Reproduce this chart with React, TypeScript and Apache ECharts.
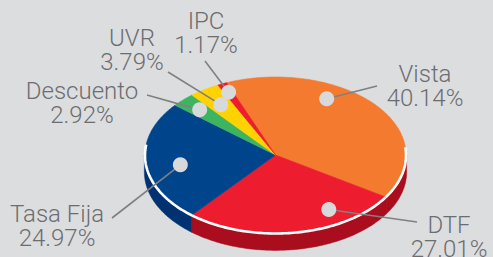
import React, { useEffect, useRef } from 'react';
import * as echarts from 'echarts';

const categories = ['Vista', 'DTF', 'Tasa Fija', 'Descuento', 'UVR', 'IPC'];
const values = [40.14, 27.01, 24.97, 2.92, 3.79, 1.17];
const valueLabels = ['40.14%', '27.01%', '24.97%', '2.92%', '3.79%', '1.17%'];

// styling / layout (not data)
const topColors = ['#F47A30', '#ED1C2E', '#00458C', '#3DB560', '#FFD200', '#ED1C2E'];
const sideColors = ['#AA0D1E', '#AA0D1E', '#003272', '#2A8A45', '#C9A500', '#AA0D1E'];
const labelPos = [[425, 85.5], [449, 236.5], [57, 226], [82, 102.5], [132, 50], [206, 33]];
const lineEnds = [[377, 86], [417, 222], [112, 218], [147, 95], [168, 72], [205, 61]];
const dotFrac = [0.35, 0.28, 0.45, 0.5, 0.5, 0.5];
const dotRad = [0.82, 0.81, 0.74, 0.82, 0.77, 0.88];

const CX = 275.5;
const CY = 155;
const RX = 130.5;
const RY = 78;
const DEPTH = 17;
const START = -22;

const rad = (d: number) => (d * Math.PI) / 180;
const pt = (t: number, f = 1, dy = 0): number[] => [
  CX + RX * f * Math.sin(rad(t)),
  CY - RY * f * Math.cos(rad(t)) + dy,
];
const arc = (a: number, b: number, f = 1, dy = 0) => {
  const pts: number[][] = [];
  const n = Math.max(2, Math.ceil(Math.abs(b - a)));
  for (let i = 0; i <= n; i++) pts.push(pt(a + ((b - a) * i) / n, f, dy));
  return pts;
};

const total = values.reduce((s, v) => s + v, 0);
const angleRange = (idx: number, v: number) => {
  let acc = 0;
  for (let i = 0; i < idx; i++) acc += values[i];
  const a1 = START + (acc / total) * 360;
  const a2 = a1 + (v / total) * 360;
  return [a1, a2];
};

export default function App() {
  const ref = useRef<HTMLDivElement>(null);
  useEffect(() => {
    document.body.style.margin = '0';
    const chart = echarts.init(ref.current!, null, { renderer: 'svg' });
    const data = values.map((v, i) => ({ name: categories[i], value: [v] }));
    chart.setOption({
      animation: false,
      backgroundColor: '#DCDDDF',
      tooltip: { show: false },
      series: [
        {
          type: 'custom',
          coordinateSystem: 'none',
          silent: true,
          z: 2,
          data,
          renderItem: (params: any, api: any) => {
            const idx = params.dataIndex;
            const v = api.value(0);
            const [a1, a2] = angleRange(idx, v);
            const children: any[] = [];
            for (const off of [-360, 0, 360]) {
              const s = Math.max(a1 + off, 90);
              const e = Math.min(a2 + off, 270);
              if (e > s) {
                const topArc = arc(s, e, 1.005, 0);
                const botArc = arc(e, s, 1.005, DEPTH);
                children.push({
                  type: 'polygon',
                  z2: 1,
                  shape: { points: topArc.concat(botArc) },
                  style: { fill: sideColors[idx], stroke: sideColors[idx], lineWidth: 0.5 },
                });
              }
            }
            children.push({
              type: 'polygon',
              z2: 3,
              shape: { points: [[CX, CY]].concat(arc(a1, a2)) },
              style: { fill: topColors[idx], stroke: topColors[idx], lineWidth: 0.6 },
            });
            for (const off of [-360, 0, 360]) {
              const s = Math.max(a1 + off, 84);
              const e = Math.min(a2 + off, 278);
              if (e > s) {
                children.push({
                  type: 'polyline',
                  z2: 5,
                  shape: { points: arc(s, e, 1.0, 0.5) },
                  style: { stroke: '#FFFFFF', lineWidth: 2.6, fill: 'none' },
                });
              }
            }
            return { type: 'group', children };
          },
        },
        {
          type: 'custom',
          coordinateSystem: 'none',
          silent: true,
          z: 5,
          data,
          renderItem: (params: any, api: any) => {
            const idx = params.dataIndex;
            const v = api.value(0);
            const [a1, a2] = angleRange(idx, v);
            const t = a1 + (a2 - a1) * dotFrac[idx];
            const d = pt(t, dotRad[idx]);
            return {
              type: 'group',
              children: [
                {
                  type: 'line',
                  z2: 1,
                  shape: { x1: lineEnds[idx][0], y1: lineEnds[idx][1], x2: d[0], y2: d[1] },
                  style: { stroke: '#808083', lineWidth: 1.6 },
                },
                {
                  type: 'circle',
                  z2: 2,
                  shape: { cx: d[0], cy: d[1], r: 7.5 },
                  style: { fill: '#D8D9DB' },
                },
                {
                  type: 'text',
                  z2: 3,
                  x: labelPos[idx][0],
                  y: labelPos[idx][1],
                  style: {
                    text: categories[idx] + '\n' + valueLabels[idx],
                    fontFamily: 'Roboto',
                    fontWeight: 300,
                    fontSize: 24,
                    lineHeight: 24,
                    fill: '#6C6D70',
                    align: 'center',
                    verticalAlign: 'middle',
                  },
                },
              ],
            };
          },
        },
      ],
    });
    return () => chart.dispose();
  }, []);
  return (
    <div
      ref={ref}
      style={{ position: 'fixed', left: 0, top: 0, width: 493, height: 257 }}
    />
  );
}
